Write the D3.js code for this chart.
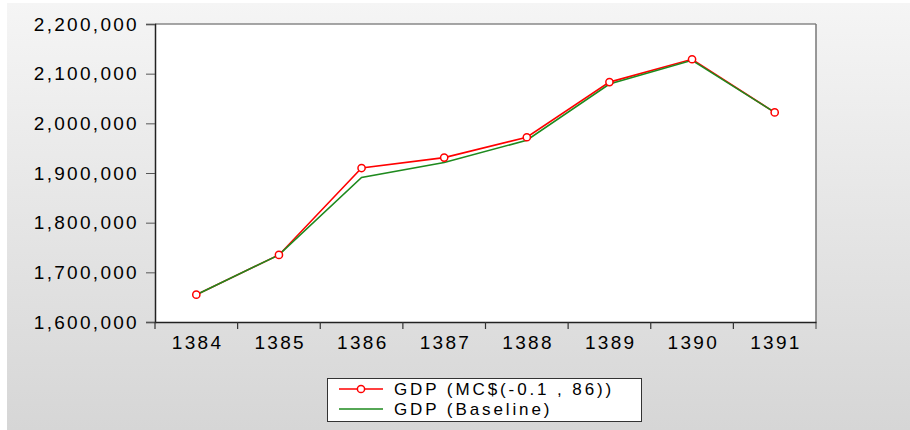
<!DOCTYPE html>
<html>
<head>
<meta charset="utf-8">
<script src="https://cdn.jsdelivr.net/npm/d3@7"></script>
<style>
  body { margin: 0; background: #fff; }
  svg text { font-family: "Liberation Sans", Arial, sans-serif; fill: #000; letter-spacing: 2.3px; }
</style>
</head>
<body>
<div class="chart"></div>
<script>
// data
const years = ["1384", "1385", "1386", "1387", "1388", "1389", "1390", "1391"];
const gdpMC = [1655000, 1735000, 1910000, 1931000, 1972000, 2083000, 2129000, 2022000];
const gdpBase = [1655000, 1735000, 1891000, 1921000, 1966000, 2079000, 2127000, 2022000];
const yTicks = [1600000, 1700000, 1800000, 1900000, 2000000, 2100000, 2200000];
const seriesNames = ["GDP (MC$(-0.1 , 86))", "GDP (Baseline)"];

const W = 910, H = 430;
const plot = { left: 155, right: 816, top: 24, bottom: 322 };

const svg = d3.select(".chart").append("svg")
  .attr("width", W)
  .attr("height", H);

// grey gradient panel behind everything
const grad = svg.append("defs").append("linearGradient")
  .attr("id", "bg").attr("x1", 0).attr("y1", 0).attr("x2", 0).attr("y2", 1);
grad.append("stop").attr("offset", "0%").attr("stop-color", "#f5f5f5");
grad.append("stop").attr("offset", "100%").attr("stop-color", "#d6d6d6");

svg.append("rect")
  .attr("x", 7).attr("y", 3)
  .attr("width", W - 7).attr("height", H - 3)
  .attr("fill", "url(#bg)");

svg.append("rect")
  .attr("x", plot.left).attr("y", plot.top)
  .attr("width", plot.right - plot.left).attr("height", plot.bottom - plot.top)
  .attr("fill", "#fff");

const x = d3.scaleBand().domain(years).range([plot.left, plot.right]);
const y = d3.scaleLinear().domain([1600000, 2200000]).range([plot.bottom, plot.top]);
const cx = d => x(d) + x.bandwidth() / 2;

// frame: top and right in grey
svg.append("line")
  .attr("x1", plot.left).attr("x2", plot.right)
  .attr("y1", plot.top).attr("y2", plot.top)
  .attr("stroke", "#888").attr("stroke-width", 1.5);
svg.append("line")
  .attr("x1", plot.right).attr("x2", plot.right)
  .attr("y1", plot.top).attr("y2", plot.bottom + 7)
  .attr("stroke", "#777").attr("stroke-width", 1.5);

// y axis
const yAxis = svg.append("g")
  .attr("transform", `translate(${plot.left},0)`)
  .call(d3.axisLeft(y).tickValues(yTicks).tickFormat(d3.format(",")).tickSize(9).tickPadding(7));
yAxis.select(".domain").attr("stroke", "#222").attr("stroke-width", 1.5);
yAxis.selectAll(".tick line").attr("stroke", "#555");
yAxis.selectAll("text").style("font-size", "19px").attr("fill", "#000");

// x axis, ticks on band edges
const xAxis = svg.append("g")
  .attr("transform", `translate(0,${plot.bottom})`)
  .call(d3.axisBottom(x).tickSize(0).tickPadding(14));
xAxis.select(".domain").attr("stroke", "#222").attr("stroke-width", 1.5);
xAxis.selectAll("text").style("font-size", "19px").attr("fill", "#000").attr("dx", 1.2);
xAxis.selectAll(".edge")
  .data(years)
  .join("line")
  .attr("x1", d => x(d)).attr("x2", d => x(d))
  .attr("y1", 0).attr("y2", 7)
  .attr("stroke", "#333").attr("stroke-width", 1.2);

const line = d3.line()
  .x((d, i) => cx(years[i]))
  .y(d => y(d));

svg.append("path")
  .attr("d", line(gdpMC))
  .attr("fill", "none").attr("stroke", "#ff0000").attr("stroke-width", 1.6);

svg.append("path")
  .attr("d", line(gdpBase))
  .attr("fill", "none").attr("stroke", "#1e8a1e").attr("stroke-width", 1.6);

svg.append("g").selectAll("circle")
  .data(gdpMC)
  .join("circle")
  .attr("cx", (d, i) => cx(years[i]))
  .attr("cy", d => y(d))
  .attr("r", 3.6)
  .attr("fill", "#fff")
  .attr("stroke", "#ff0000")
  .attr("stroke-width", 1.5);

// legend
const leg = svg.append("g");
leg.append("rect")
  .attr("x", 327.5).attr("y", 378.5)
  .attr("width", 314).attr("height", 43)
  .attr("fill", "#fff").attr("stroke", "#333").attr("stroke-width", 1);

const legColors = ["#ff0000", "#1e8a1e"];
const legRows = [389, 409];
seriesNames.forEach((name, i) => {
  leg.append("line")
    .attr("x1", 339).attr("x2", 383)
    .attr("y1", legRows[i]).attr("y2", legRows[i])
    .attr("stroke", legColors[i]).attr("stroke-width", 1.6);
  if (i === 0) {
    leg.append("circle")
      .attr("cx", 361).attr("cy", legRows[i]).attr("r", 3.6)
      .attr("fill", "#fff").attr("stroke", legColors[i]).attr("stroke-width", 1.5);
  }
  leg.append("text")
    .attr("x", 394).attr("y", legRows[i] + 6)
    .style("font-size", "17px")
    .style("letter-spacing", "2.9px")
    .text(name);
});
</script>
</body>
</html>
